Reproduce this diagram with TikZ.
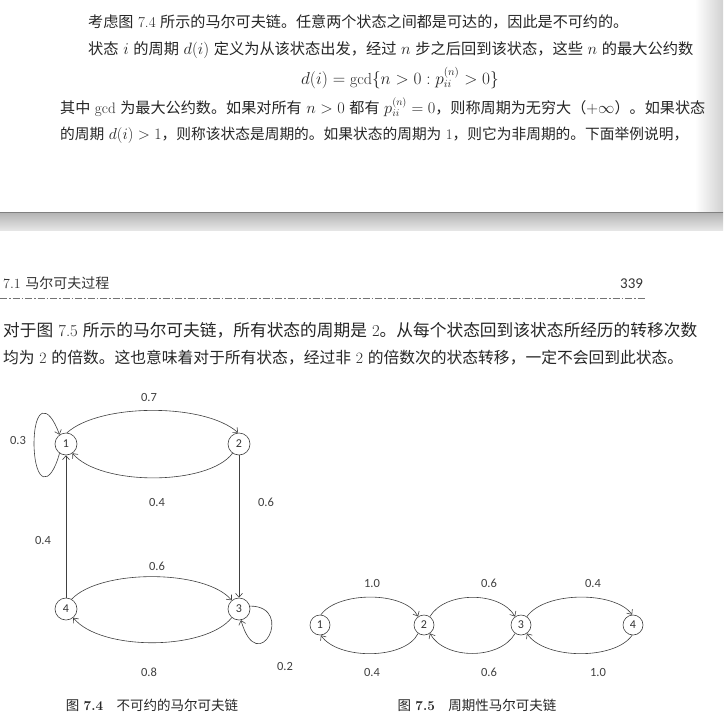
\documentclass[tikz,border=0pt]{standalone}
\usepackage{graphicx}
\usepackage{fontspec}
\newfontfamily\cjk{Noto Sans CJK SC}
\newfontfamily\lbl{Carlito}
\usetikzlibrary{arrows.meta}
\begin{document}
\begin{tikzpicture}[x=1pt,y=-1pt,
  txt/.style={anchor=west, inner sep=0, text=black!85, font=\fontsize{16}{16}\selectfont},
  hdr/.style={anchor=west, inner sep=0, text=black!80, font=\fontsize{14}{14}\selectfont},
  figcap/.style={inner sep=0, text=black!85, font=\fontsize{13.5}{13.5}\selectfont},
  state/.style={circle, draw=black!75, line width=0.6pt, minimum size=22pt, inner sep=0, text=black!80, font=\lbl\fontsize{12}{12}\selectfont},
  sstate/.style={state, minimum size=20pt},
  lab/.style={inner sep=1pt, text=black!75, font=\lbl\fontsize{12.5}{12.5}\selectfont},
  arr/.style={draw=black!75, line width=0.6pt, -{Straight Barb[length=4pt,width=7pt]}}]
\useasboundingbox (0,0) rectangle (723,728);
\fill[white] (0,0) rectangle (723,728);
% page edge shadow and gap between the pages
\shade[left color=white, right color=black!18] (695,0) rectangle (723,212);
\shade[top color=black!30, bottom color=black!10] (0,212) rectangle (723,230);
\draw[black!50, line width=0.8pt] (0,212.5) -- (723,212.5);

% ---------- upper page text ----------
\node[txt] (t1) at (88,22) {\resizebox{540pt}{!}{{\cjk 考虑图} 7.4 {\cjk 所示的马尔可夫链。任意两个状态之间都是可达的，因此是不可约的。}}};
\node[txt] (t2) at (88,50) {\resizebox{605pt}{!}{{\cjk 状态} $i$ {\cjk 的周期} $d(i)$ {\cjk 定义为从该状态出发，经过} $n$ {\cjk 步之后回到该状态，这些} $n$ {\cjk 的最大公约数}}};
\node[inner sep=0, text=black!85, font=\fontsize{16}{16}\selectfont] (t3) at (400,78) {$d(i)=\mathrm{gcd}\{n>0: p_{ii}^{(n)}>0\}$};
\node[txt] (t4) at (60,107) {\resizebox{645pt}{!}{{\cjk 其中} gcd {\cjk 为最大公约数。如果对所有} $n>0$ {\cjk 都有} $p_{ii}^{(n)}=0${\cjk ，则称周期为无穷大（}$+\infty${\cjk ）。如果状态}}};
\node[txt] (t5) at (60,135) {\resizebox{628pt}{!}{{\cjk 的周期} $d(i)>1${\cjk ，则称该状态是周期的。如果状态的周期为} 1{\cjk ，则它为非周期的。下面举例说明，}}};

% ---------- lower page header ----------
\node[hdr] (h1) at (3,283) {7.1 {\cjk 马尔可夫过程}};
\node[hdr] (h2) at (620,284) {\lbl\fontsize{15}{15}\selectfont 339};
\draw[black!55, line width=0.5pt, dash pattern=on 7pt off 2pt on 1.5pt off 2pt] (0,298) -- (646,298);

\node[txt] (b1) at (3,330) {\resizebox{694pt}{!}{{\cjk 对于图} 7.5 {\cjk 所示的马尔可夫链，所有状态的周期是} 2{\cjk 。从每个状态回到该状态所经历的转移次数}}};
\node[txt] (b2) at (3,358) {\resizebox{680pt}{!}{{\cjk 均为} 2 {\cjk 的倍数。这也意味着对于所有状态，经过非} 2 {\cjk 的倍数次的状态转移，一定不会回到此状态。}}};

% ---------- figure 7.4 ----------
\node[state] (n1) at (66,444) {1};
\node[state] (n2) at (239,444) {2};
\node[state] (n4) at (66,609) {4};
\node[state] (n3) at (239,609) {3};

\draw[arr] (n1.85) .. controls (100,403) and (205,403) .. (n2.95);
\draw[arr] (n2.235) .. controls (208,486) and (100,486) .. (n1.-55);
\draw[arr] (n1.235) .. controls (50,488) and (35,484) .. (34,445) .. controls (34,406) and (48,403) .. (n1.125);
\draw[arr] (n4) -- (n1);
\draw[arr] (n2) -- (n3);
\draw[arr] (n4.60) .. controls (100,569) and (205,569) .. (n3.130);
\draw[arr] (n3.230) .. controls (205,651) and (100,651) .. (n4.-50);
\draw[arr] (n3.15) .. controls (296,606) and (258,680) .. (n3.-80);

\node[lab] (l12) at (149,397) {0.7};
\node[lab] (l11) at (18,440) {0.3};
\node[lab] (l21) at (157,502) {0.4};
\node[lab] (l23) at (266,502) {0.6};
\node[lab] (l41) at (43,540) {0.4};
\node[lab] (l43) at (157,566) {0.6};
\node[lab] (l34) at (149,672) {0.8};
\node[lab] (l33) at (285,666) {0.2};
\node[figcap] (c1) at (152,705) {{\cjk 图} \textbf{7.4}\hspace{1em}{\cjk 不可约的马尔可夫链}};

% ---------- figure 7.5 ----------
\node[sstate] (m1) at (320,625) {1};
\node[sstate] (m2) at (424,625) {2};
\node[sstate] (m3) at (521,625) {3};
\node[sstate] (m4) at (633,625) {4};

\draw[arr] (m1.85) .. controls (338,591) and (405,591) .. (m2.125);
\draw[arr] (m2.235) .. controls (405,660) and (338,660) .. (m1.-85);
\draw[arr] (m2.55) .. controls (445,591) and (500,591) .. (m3.125);
\draw[arr] (m3.235) .. controls (500,660) and (445,660) .. (m2.-55);
\draw[arr] (m3.55) .. controls (545,591) and (615,591) .. (m4.95);
\draw[arr] (m4.-95) .. controls (615,660) and (545,660) .. (m3.-55);

\node[lab] (k12) at (372,583) {1.0};
\node[lab] (k23) at (489,583) {0.6};
\node[lab] (k34) at (593,583) {0.4};
\node[lab] (k21) at (372,672) {0.4};
\node[lab] (k32) at (489,672) {0.6};
\node[lab] (k43) at (598,672) {1.0};
\node[figcap] (c2) at (477,705) {{\cjk 图} \textbf{7.5}\hspace{1em}{\cjk 周期性马尔可夫链}};
\end{tikzpicture}
\end{document}
